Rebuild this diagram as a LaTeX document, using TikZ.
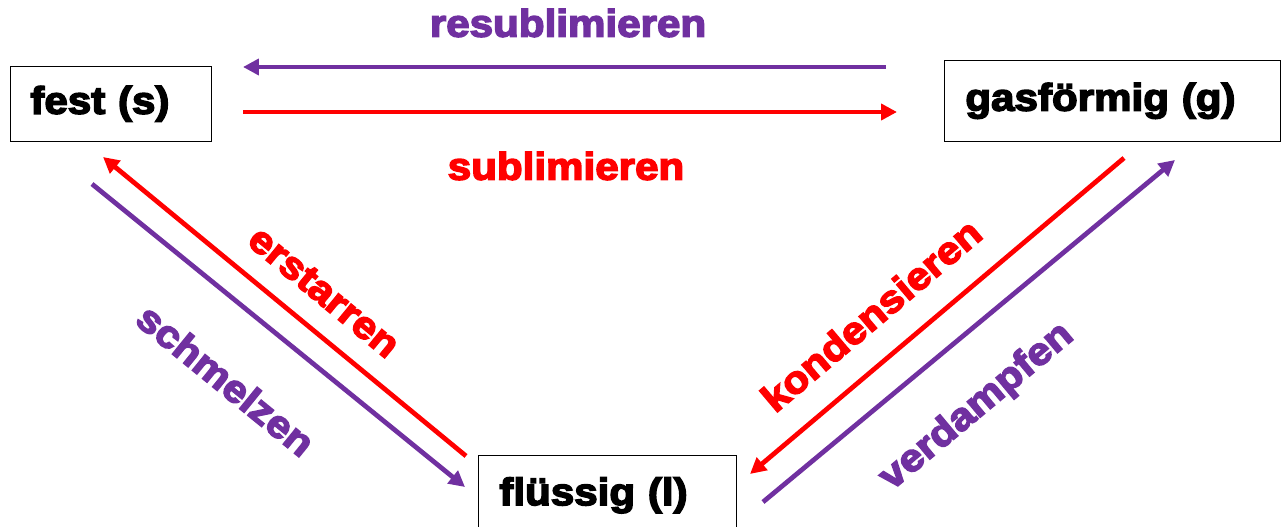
\documentclass[tikz,border=0pt]{standalone}
\usepackage{fontspec}
\newfontfamily\heavy{Liberation Sans Bold}[FakeBold=4,FakeStretch=1.1]
\usetikzlibrary{arrows.meta}
\definecolor{lila}{HTML}{7030A0}
\definecolor{rot}{HTML}{FF0000}

\begin{document}
\begin{tikzpicture}[x=0.02cm,y=-0.02cm,>={Triangle[length=0.32cm,width=0.32cm]},
  font=\heavy\fontsize{21.8pt}{26pt}\selectfont,
  zustand/.style={draw,thin,anchor=north west,align=left,inner ysep=0pt},
  pfeil/.style={line width=0.095cm,->}]

\useasboundingbox (0,0) rectangle (1282,527);

\node[zustand,inner xsep=0.4cm,text width=3.22cm,minimum height=1.5cm] (fest) at (10,66) {fest (s)};
\node[zustand,inner xsep=0.42cm,text width=5.88cm,minimum height=1.62cm] (gas) at (944,60) {gasförmig (g)};
\node[zustand,inner xsep=0.42cm,text width=4.32cm,minimum height=1.6cm] (fluessig) at (478,455) {flüssig (l)};

\coordinate (r1) at (886,67);
\coordinate (r2) at (243,67);
\coordinate (s1) at (243,112);
\coordinate (s2) at (897,112);
\coordinate (e1) at (466,456);
\coordinate (e2) at (103,157);
\coordinate (m1) at (92,184);
\coordinate (m2) at (465,487);
\coordinate (k1) at (1124,158);
\coordinate (k2) at (750,474);
\coordinate (v1) at (763,502);
\coordinate (v2) at (1175,160);

\draw[pfeil,lila] (r1) -- (r2);
\draw[pfeil,rot] (s1) -- (s2);
\draw[pfeil,rot] (e1) -- (e2);
\draw[pfeil,lila] (m1) -- (m2);
\draw[pfeil,rot] (k1) -- (k2);
\draw[pfeil,lila] (v1) -- (v2);

\node[lila] (resub) at (568,23) {resublimieren};
\node[rot] (sub) at (566,166) {sublimieren};
\node[rot,rotate=-39.5] (erst) at (324,292) {erstarren};
\node[lila,rotate=-39.1] (schm) at (226,380) {schmelzen};
\node[rot,rotate=40.2] (kond) at (871,315) {kondensieren};
\node[lila,rotate=39.8] (verd) at (977,407) {verdampfen};

\end{tikzpicture}
\end{document}
